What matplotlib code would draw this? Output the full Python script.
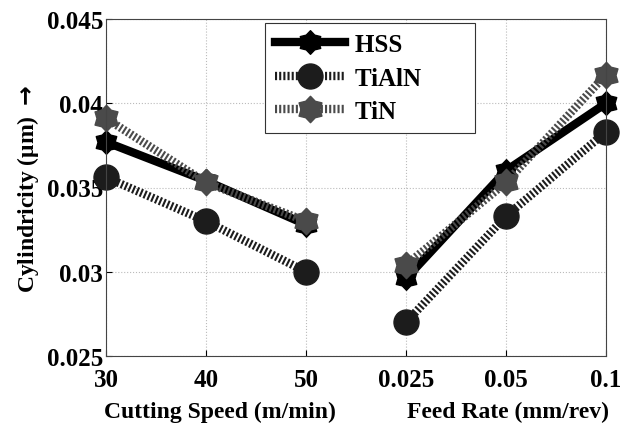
import numpy as np
import matplotlib.pyplot as plt
from matplotlib.path import Path

plt.rcParams['font.family'] = ['Liberation Serif', 'DejaVu Serif']
plt.rcParams['font.weight'] = 'bold'

tick_labels = ['30', '40', '50', '0.025', '0.05', '0.1']
hss = [0.0377, 0.0354, 0.0328, 0.0296, 0.0360, 0.0400]
tialn = [0.0356, 0.0330, 0.0300, 0.0270, 0.0333, 0.0383]
tin = [0.0391, 0.0353, 0.0330, 0.0304, 0.0353, 0.0417]

x = np.arange(1, 7)

# six-pointed star (hexagram) marker
ang = np.deg2rad(90 + 30 * np.arange(12))
rad = np.where(np.arange(12) % 2 == 0, 1.0, 0.72)
verts = np.column_stack([rad * np.cos(ang), rad * np.sin(ang)])
hexagram = Path(np.vstack([verts, verts[:1]]), closed=True)

fig = plt.figure(figsize=(6.27, 4.31), dpi=100)
ax = fig.add_axes([106/627, 1 - 357/431, 500/627, 337/431])

styles = [
    ('HSS', hss, dict(color='black', ls='-', lw=6, marker=hexagram, ms=17)),
    ('TiAlN', tialn, dict(color='#1c1c1c', ls=(0, (0.25, 0.25)), lw=6, marker='o', ms=18)),
    ('TiN', tin, dict(color='#4a4a4a', ls=(0, (0.25, 0.25)), lw=6, marker=hexagram, ms=19)),
]

# two separate segments: speed (1-3) and feed (4-6)
for name, y, st in styles:
    y = np.array(y)
    ax.plot(x[:3], y[:3], label=name, dash_capstyle='butt', clip_on=False, **st)
    ax.plot(x[3:], y[3:], dash_capstyle='butt', clip_on=False, **st)

ax.set_xlim(1, 6)
ax.set_ylim(0.025, 0.045)
ax.set_xticks(x)
ax.set_xticklabels(tick_labels)
ax.set_yticks([0.025, 0.03, 0.035, 0.04, 0.045])
ax.set_yticklabels(['0.025', '0.03', '0.035', '0.04', '0.045'])
ax.tick_params(labelsize=18, direction='in', length=4, width=0.8, pad=2)
ax.tick_params(axis='x', pad=9)
ax.grid(True, color='#bbbbbb', ls=':', lw=0.8)
for s in ax.spines.values():
    s.set_color('#444444')
    s.set_linewidth(0.8)

ax.set_ylabel('Cylindricity (\u03bcm) $\\rightarrow$', fontsize=17, fontweight='bold', labelpad=4)
fig.text(220/627, 1 - 412/431, 'Cutting Speed (m/min)', ha='center', va='center',
         fontsize=17, fontweight='bold')
fig.text(508/627, 1 - 412/431, 'Feed Rate (mm/rev)', ha='center', va='center',
         fontsize=17, fontweight='bold')

handles, labels = ax.get_legend_handles_labels()
labels = [lb + '\u00a0' * 7 for lb in labels]
leg = ax.legend(handles, labels, loc='upper left',
                bbox_to_anchor=(265/627, 1 - 24/431), bbox_transform=fig.transFigure,
                fontsize=18, handlelength=2.8, fancybox=False, framealpha=1,
                edgecolor='#333333', borderpad=0.4, labelspacing=0.42,
                handletextpad=0.4, borderaxespad=0)
leg.get_frame().set_linewidth(0.8)

fig.savefig('out.png', dpi=100)
